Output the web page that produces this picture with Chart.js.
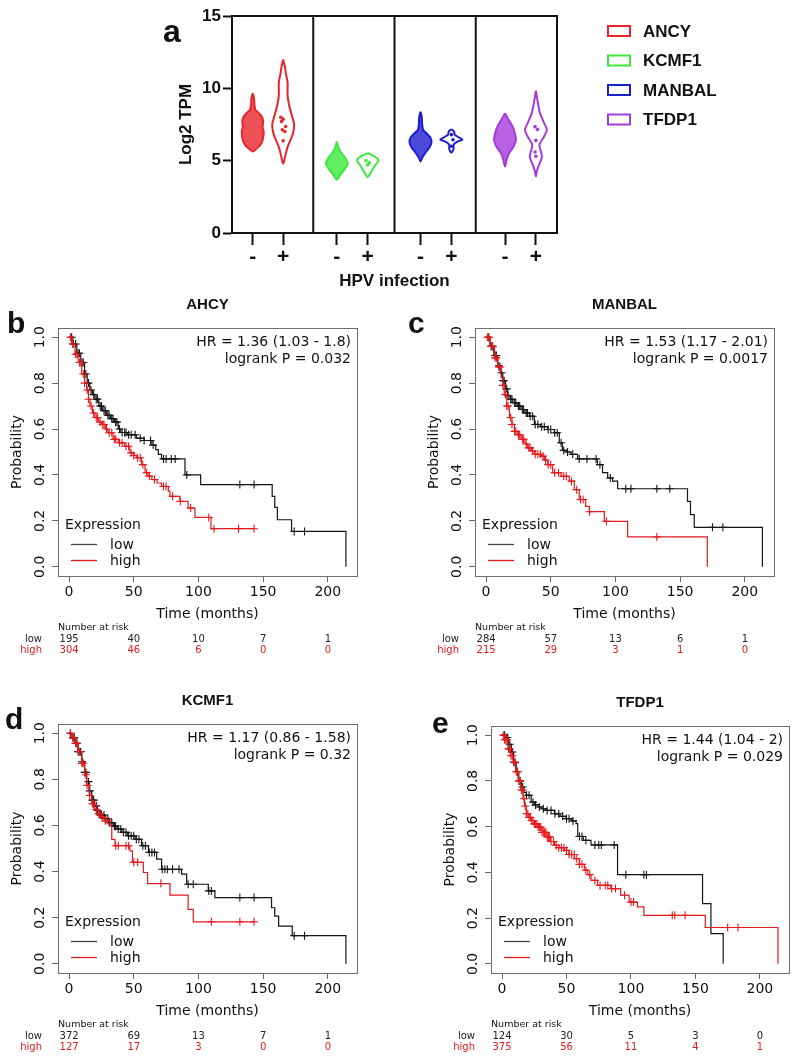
<!DOCTYPE html>
<html>
<head>
<meta charset="utf-8">
<script src="https://cdn.jsdelivr.net/npm/chart.js@4.4.1/dist/chart.umd.min.js"></script>
<style>
html,body{margin:0;padding:0;background:#fff;}
#page{position:relative;width:800px;height:1058px;overflow:hidden;}
canvas{position:absolute;}
</style>
</head>
<body>
<div id="page">
  <canvas id="cA" width="800" height="290" style="left:0;top:0"></canvas>
  <canvas id="cB" width="400" height="400" style="left:0;top:290px"></canvas>
  <canvas id="cC" width="400" height="400" style="left:400px;top:290px"></canvas>
  <canvas id="cD" width="400" height="368" style="left:0;top:690px"></canvas>
  <canvas id="cE" width="400" height="368" style="left:400px;top:690px"></canvas>
</div>
<script>
Chart.defaults.font.family='"DejaVu Sans", sans-serif';
Chart.defaults.color='#111';
Chart.defaults.animation=false;

// ---------- panel a : violin plots ----------
const genes=['ANCY','KCMF1','MANBAL','TFDP1'];
const geneColors=['#e8252b','#3ce83c','#1d1dd2','#a63bdc'];
const hpvLabels=['-','+','-','+','-','+','-','+'];
const violinX=[0.255,0.63,1.29,1.67,2.32,2.70,3.36,3.74];
const log2Ticks=[0,5,10,15];

// [log2 TPM, relative density width]
const ancyNeg=[[9.66,0],[9.3,0.12],[8.9,0.15],[8.5,0.25],[8.3,0.55],[8.0,0.85],[7.7,0.95],[7.3,0.9],[7.0,1.0],[6.6,0.95],[6.3,0.85],[6.0,0.6],[5.8,0.3],[5.63,0]];
const ancyPos=[[12.0,0],[11.5,0.15],[11.0,0.25],[10.4,0.4],[9.5,0.4],[8.8,0.55],[8.1,0.8],[7.5,1.0],[6.9,0.9],[6.4,0.65],[5.9,0.38],[5.3,0.18],[4.78,0]];
const kcmfNeg=[[6.32,0],[5.9,0.15],[5.5,0.45],[5.1,0.85],[4.8,1.0],[4.4,0.7],[4.0,0.3],[3.68,0]];
const kcmfPos=[[5.52,0],[5.35,0.5],[5.1,0.95],[4.9,0.9],[4.6,0.6],[4.2,0.3],[3.86,0]];
const manbalNeg=[[8.39,0],[8.0,0.12],[7.5,0.15],[7.1,0.25],[6.9,0.55],[6.6,0.9],[6.25,1.0],[5.9,0.8],[5.55,0.45],[5.2,0.15],[4.94,0]];
const manbalPos=[[7.18,0],[7.0,0.25],[6.8,0.3],[6.6,0.7],[6.45,1.0],[6.3,0.5],[6.1,0.2],[5.8,0.2],[5.56,0]];
const tfdpNeg=[[8.28,0],[7.8,0.35],[7.35,0.7],[6.9,0.9],[6.45,1.0],[6.0,0.8],[5.5,0.35],[5.05,0.15],[4.6,0]];
const tfdpPos=[[9.84,0],[9.0,0.18],[8.3,0.37],[7.6,0.75],[7.13,1.0],[6.67,0.75],[6.1,0.32],[5.63,0.46],[5.24,0.55],[4.7,0.28],[4.3,0.1],[3.9,0]];
const violins=[ancyNeg,ancyPos,kcmfNeg,kcmfPos,manbalNeg,manbalPos,tfdpNeg,tfdpPos];

// individual samples in the HPV+ groups: [log2 TPM, jitter]
const ancyPosDots=[[8.0,-0.03],[7.87,0.0],[7.7,-0.02],[7.36,0.03],[7.13,-0.01],[7.01,0.02],[6.37,0.0]];
const kcmfPosDots=[[5.0,-0.02],[4.85,0.02],[4.7,0.0]];
const manbalPosDots=[[6.8,0.0],[6.45,0.02],[6.0,0.0]];
const tfdpPosDots=[[7.35,-0.01],[7.15,0.02],[6.4,0.0],[5.6,-0.01],[5.3,0.0]];
const posDots=[ancyPosDots,kcmfPosDots,manbalPosDots,tfdpPosDots];

const VW=0.135;
function hexA(h,a){const n=parseInt(h.slice(1),16);return `rgba(${n>>16},${(n>>8)&255},${n&255},${a})`;}

const violinSets=[];
violins.forEach((prof,i)=>{
  const c=violinX[i], col=geneColors[Math.floor(i/2)];
  const right=prof.map(([y,w])=>({x:c+w*VW,y}));
  const left=prof.slice().reverse().map(([y,w])=>({x:c-w*VW,y}));
  const pts=right.concat(left.slice(1));
  const neg=i%2===0;
  violinSets.push({data:pts,showLine:true,tension:0.25,borderColor:col,borderWidth:2,
    pointRadius:0,fill:neg?'shape':false,backgroundColor:neg?hexA(col,0.8):'rgba(0,0,0,0)'});
});
posDots.forEach((dots,g)=>{
  const c=violinX[2*g+1];
  violinSets.unshift({data:dots.map(([y,dx])=>({x:c+dx,y})),showLine:false,pointRadius:1.8,
    pointBackgroundColor:geneColors[g],pointBorderWidth:0});
});

const panelADeco={
  id:'panelADeco',
  afterDraw(chart){
    const {ctx,chartArea:a,scales:{x}}=chart;
    ctx.save();
    ctx.strokeStyle='#111';ctx.lineWidth=2;
    ctx.beginPath();
    ctx.moveTo(a.left-1,a.top);ctx.lineTo(a.right,a.top);ctx.lineTo(a.right,a.bottom);
    [1,2,3].forEach(v=>{const px=x.getPixelForValue(v);ctx.moveTo(px,a.top);ctx.lineTo(px,a.bottom);});
    ctx.stroke();
    ctx.fillStyle='#111';
    ctx.font='bold 32px "Liberation Sans"';ctx.textAlign='left';ctx.textBaseline='alphabetic';
    ctx.fillText('a',163,42);
    ctx.font='bold 17px "Liberation Sans"';ctx.textAlign='center';ctx.textBaseline='middle';
    ctx.fillText('HPV infection',(a.left+a.right)/2,281);
    ctx.save();ctx.translate(186,(a.top+a.bottom)/2);ctx.rotate(-Math.PI/2);
    ctx.fillText('Log2 TPM',0,0);ctx.restore();
    // legend
    genes.forEach((g,i)=>{
      const y=31+i*29.5;
      ctx.strokeStyle=geneColors[i];ctx.lineWidth=2;
      ctx.strokeRect(608,y-5,22,10);
      ctx.fillStyle='#111';ctx.textAlign='left';
      ctx.fillText(g,643,y+1);
    });
    ctx.restore();
  }
};

new Chart(document.getElementById('cA'),{
  type:'scatter',
  data:{datasets:violinSets},
  options:{
    responsive:false,events:[],
    layout:{padding:{left:0,top:16,right:243,bottom:0}},
    plugins:{legend:{display:false},tooltip:{enabled:false}},
    scales:{
      x:{type:'linear',min:0,max:4,
        afterBuildTicks:s=>{s.ticks=violinX.map(v=>({value:v}));},
        afterFit:s=>{s.height=57;},
        border:{display:true,width:2,color:'#111'},
        grid:{drawOnChartArea:false,tickLength:12,tickWidth:2,tickColor:'#111'},
        ticks:{autoSkip:false,maxRotation:0,padding:0,font:{family:'"Liberation Sans"',size:21,weight:'bold'},color:'#111',
          callback:(v,i)=>hpvLabels[i]}},
      y:{min:0,max:15,
        afterBuildTicks:s=>{s.ticks=log2Ticks.map(v=>({value:v}));},
        afterFit:s=>{s.width=232;},
        border:{display:true,width:2,color:'#111'},
        grid:{drawOnChartArea:false,tickLength:9,tickWidth:2,tickColor:'#111'},
        ticks:{padding:2,font:{family:'"Liberation Sans"',size:17,weight:'bold'},color:'#111'}}
    }
  },
  plugins:[panelADeco]
});

// ---------- panels b-e : Kaplan-Meier ----------
const timeTicks=[0,50,100,150,200];
const probTicks=[0,0.2,0.4,0.6,0.8,1.0];
const RED='#e3191c', BLACK='#151515';

// AHCY
const ahcyLowT=[0,3,6,9,12,14,16,18,20,23,26,29,32,35,38,40,45,52,58,64,67,69,71.5,89.6,101.7,157,159,161,172,214];
const ahcyLowS=[1,0.97,0.93,0.89,0.84,0.80,0.77,0.75,0.73,0.70,0.68,0.66,0.645,0.63,0.60,0.585,0.575,0.56,0.55,0.53,0.51,0.49,0.47,0.40,0.358,0.307,0.259,0.205,0.154,0];
const ahcyLowC=[2,3,5,7,8,10,11,13,15,17,19,21,22,24,25,27,28,30,31,33,34,36,37,39,41,43,44,46,48,51,55,58,63,65,73,75,79,82,91,132,143,174,182];
const ahcyHighT=[0,2,4.6,7,9.8,12,13.6,15,16.2,18,20,23,25,28,30,34,38,43,47,50,52,56,58.7,61,64,68,71.5,76.7,78,85.7,92,97.3,109.7,143];
const ahcyHighS=[1,0.97,0.926,0.89,0.84,0.80,0.77,0.73,0.70,0.67,0.65,0.63,0.62,0.60,0.584,0.555,0.54,0.525,0.496,0.485,0.475,0.445,0.41,0.395,0.38,0.365,0.35,0.33,0.307,0.285,0.256,0.215,0.166,0.166];
const ahcyHighC=[1,3,5,6,8,9,11,12,14,15,17,19,21,22,24,26,27,29,31,33,35,36,39,41,44,46,48,50,53,55,57,60,62,66,73,75,80,86,94,108,112,131,143];
const ahcyRiskLow=[195,40,10,7,1], ahcyRiskHigh=[304,46,6,0,0];

// MANBAL
const manbalLowT=[0,3,6,9,11,12.9,15,16.7,18.5,20.6,24,27,30,33.5,37.3,42,47.6,52.8,56.6,59,62,65.6,70.8,86,90,94,97.8,101.7,155.7,158,160.9,213.6];
const manbalLowS=[1,0.96,0.92,0.875,0.845,0.81,0.775,0.745,0.73,0.715,0.70,0.685,0.67,0.656,0.62,0.61,0.598,0.584,0.54,0.507,0.50,0.49,0.47,0.445,0.41,0.387,0.373,0.34,0.285,0.227,0.172,0];
const manbalLowC=[2,4,5,7,8,10,12,13,14,16,17,19,20,22,23,25,26,28,29,31,32,34,36,38,40,43,45,48,50,53,55,58,60,63,67,72,78,85,88,96,108,112,132,142,175,183];
const manbalHighT=[0,3,6.6,9,11.6,13,14,16,18,20,21.9,24,27,30,32,35,37.3,42.5,45,47.6,51.5,58,64.3,68.2,72,77,79.8,91.4,109.4,171];
const manbalHighS=[1,0.96,0.91,0.87,0.824,0.79,0.75,0.70,0.65,0.62,0.59,0.575,0.555,0.535,0.518,0.505,0.49,0.482,0.465,0.445,0.41,0.394,0.373,0.336,0.293,0.263,0.24,0.198,0.13,0];
const manbalHighC=[1,2,4,5,7,8,10,11,13,15,16,17,19,20,22,23,25,26,28,29,31,33,34,36,38,40,42,44,46,48,50,53,56,60,62,66,70,73,75,80,93,132];
const manbalRiskLow=[284,57,13,6,1], manbalRiskHigh=[215,29,3,1,0];

// KCMF1
const kcmfLowT=[0,2,4.6,7,9.8,12,13.6,15.5,17.5,19.5,21.4,24,27.8,31,34.2,37,40.7,45,51,56,61.3,67.7,71.5,87,90.9,107.6,112.7,156.5,159,162,172.5,214];
const kcmfLowS=[1,0.98,0.956,0.92,0.876,0.83,0.79,0.75,0.71,0.685,0.665,0.645,0.629,0.612,0.597,0.585,0.57,0.555,0.54,0.512,0.483,0.454,0.41,0.389,0.345,0.316,0.287,0.243,0.207,0.163,0.122,0];
const kcmfLowC=[1,3,4,6,7,9,10,12,13,15,16,18,19,21,22,24,25,27,28,30,31,33,35,36,38,40,42,44,46,48,50,52,54,57,59,62,64,66,72,74,76,80,85,92,96,108,110,132,143,174,182];
const kcmfHighT=[0,2,4.6,7,9.8,12,13.6,15.5,17.5,19.5,21.4,25,28,31.7,33,35.5,47,49,57.4,60.7,78,92,96,143];
const kcmfHighS=[1,0.98,0.956,0.92,0.87,0.82,0.774,0.73,0.694,0.67,0.65,0.635,0.62,0.60,0.54,0.512,0.49,0.44,0.396,0.348,0.298,0.236,0.182,0.182];
const kcmfHighC=[1,3,5,6,8,10,11,13,14,16,18,19,21,23,24,26,28,30,36,38,44,46,50,53,71,110,132,143];
const kcmfRiskLow=[372,69,13,7,1], kcmfRiskHigh=[127,17,3,0,0];

// TFDP1
const tfdpLowT=[0,3.3,5,7.2,9,11,13,15,17,18.8,22.6,25,27.8,31,34.2,40.7,45,49.7,54,57.4,58.7,63,69,89.6,155.5,162,171.5];
const tfdpLowS=[1,0.99,0.96,0.926,0.88,0.84,0.80,0.773,0.75,0.737,0.707,0.695,0.686,0.678,0.671,0.656,0.645,0.635,0.625,0.613,0.557,0.54,0.52,0.39,0.263,0.132,0];
const tfdpLowC=[2,4,6,8,10,12,14,16,19,21,24,26,29,32,35,38,41,44,47,50,52,55,60,62,65,72,75,77,87,96,110,112];
const tfdpHighT=[0,2,4.6,6.5,8.5,10.5,12.4,14.5,16.2,17.5,18.8,20.5,22.6,25,27.8,31,34.2,37.5,40.7,44,48.4,52,56.1,60,63.8,66.5,69,74.1,84.4,92,98.6,105,110,157.6,214];
const tfdpHighS=[1,0.98,0.94,0.91,0.882,0.84,0.80,0.76,0.722,0.69,0.656,0.64,0.627,0.612,0.598,0.575,0.555,0.535,0.518,0.508,0.496,0.478,0.46,0.435,0.41,0.39,0.365,0.343,0.329,0.30,0.27,0.249,0.212,0.159,0];
const tfdpHighC=[1,2,3,4,5,6,7,8,9,10,11,12,13,14,15,16,17,18,19,20,21,22,23,24,25,26,27,28,29,30,31,32,33,34,35,36,37,38,40,42,44,46,48,50,52,54,56,58,60,62,65,68,72,76,80,82,85,88,95,100,102,132,134,142,175,183];
const tfdpRiskLow=[124,30,5,3,0], tfdpRiskHigh=[375,56,11,4,1];

function survAt(T,S,t){let s=S[0];for(let i=0;i<T.length;i++){if(T[i]<=t)s=S[i];}return s;}

function kmDeco(d){
  return {
    id:'kmDeco',
    afterDraw(chart){
      const {ctx,chartArea:a,scales:{x}}=chart;
      const cx=(a.left+a.right)/2, cy=(a.top+a.bottom)/2;
      ctx.save();
      ctx.strokeStyle='#6e6e6e';ctx.lineWidth=1;
      ctx.strokeRect(Math.round(a.left)+0.5,Math.round(a.top)+0.5,Math.round(a.width),Math.round(a.height));
      ctx.fillStyle='#111';
      ctx.font='bold 15px "Liberation Sans"';ctx.textAlign='center';ctx.textBaseline='middle';
      ctx.fillText(d.title,cx,a.top-23);
      ctx.font='bold 30px "Liberation Sans"';ctx.textAlign='left';ctx.textBaseline='alphabetic';
      ctx.fillText(d.letter,a.left+d.lx,a.top+d.ly);
      ctx.font='14px "DejaVu Sans"';ctx.textAlign='right';ctx.textBaseline='middle';
      ctx.fillText(d.hr,a.right-6,a.top+14);
      ctx.fillText(d.p,a.right-6,a.top+31);
      ctx.textAlign='left';
      ctx.fillText('Expression',a.left+7,a.bottom-51);
      ctx.fillText('low',a.left+52,a.bottom-31);
      ctx.fillText('high',a.left+52,a.bottom-15);
      ctx.lineWidth=1.3;
      ctx.strokeStyle='#444';ctx.beginPath();ctx.moveTo(a.left+13,a.bottom-31.5);ctx.lineTo(a.left+39,a.bottom-31.5);ctx.stroke();
      ctx.strokeStyle=RED;ctx.beginPath();ctx.moveTo(a.left+13,a.bottom-15.5);ctx.lineTo(a.left+39,a.bottom-15.5);ctx.stroke();
      ctx.fillStyle='#111';ctx.textAlign='center';
      ctx.fillText('Time (months)',cx,a.bottom+38);
      ctx.save();ctx.translate(a.left-41,cy);ctx.rotate(-Math.PI/2);ctx.fillText('Probability',0,0);ctx.restore();
      ctx.font='9.5px "DejaVu Sans"';ctx.textAlign='left';
      ctx.fillText('Number at risk',a.left,a.bottom+52);
      ctx.font='10px "DejaVu Sans"';ctx.textAlign='right';
      ctx.fillStyle='#222';ctx.fillText('low',a.left-16,a.bottom+63);
      ctx.fillStyle=RED;ctx.fillText('high',a.left-16,a.bottom+74);
      ctx.textAlign='center';
      timeTicks.forEach((t,i)=>{
        const px=x.getPixelForValue(t);
        ctx.fillStyle='#222';ctx.fillText(String(d.riskLow[i]),px,a.bottom+63);
        ctx.fillStyle=RED;ctx.fillText(String(d.riskHigh[i]),px,a.bottom+74);
      });
      ctx.restore();
    }
  };
}

function km(id,p,d){
  const pts=(T,S)=>T.map((t,i)=>({x:t,y:S[i]}));
  const cens=(C,T,S)=>C.map(t=>({x:t,y:survAt(T,S,t)}));
  const mark=(col)=>({showLine:false,pointStyle:'cross',pointRadius:4,borderColor:col,pointBorderWidth:1.1,pointBackgroundColor:col});
  const line=(col)=>({showLine:true,stepped:true,borderColor:col,borderWidth:1.2,pointRadius:0,fill:false});
  new Chart(document.getElementById(id),{
    type:'scatter',
    data:{datasets:[
      Object.assign({data:cens(p.highC,p.highT,p.highS)},mark(RED)),
      Object.assign({data:pts(p.highT,p.highS)},line(RED)),
      Object.assign({data:cens(p.lowC,p.lowT,p.lowS)},mark(BLACK)),
      Object.assign({data:pts(p.lowT,p.lowS)},line(BLACK))
    ]},
    options:{
      responsive:false,events:[],
      layout:{padding:{left:0,top:p.top,right:p.right,bottom:0}},
      plugins:{legend:{display:false},tooltip:{enabled:false}},
      scales:{
        x:{type:'linear',min:-8.56,max:222.56,
          afterBuildTicks:s=>{s.ticks=timeTicks.map(v=>({value:v}));},
          afterFit:s=>{s.height=p.xh;},
          border:{display:false},
          grid:{drawOnChartArea:false,tickLength:6,tickColor:'#666'},
          ticks:{font:{size:14},color:'#111',padding:2,maxRotation:0,autoSkip:false}},
        y:{min:-0.04,max:1.04,
          afterBuildTicks:s=>{s.ticks=probTicks.map(v=>({value:v}));},
          afterFit:s=>{s.width=p.left;},
          border:{display:false},
          grid:{drawOnChartArea:false,tickLength:6,tickColor:'#666'},
          ticks:{font:{size:14},color:'#111',minRotation:90,maxRotation:90,crossAlign:'center',padding:1,
            callback:v=>Number(v).toFixed(1)}}
      }
    },
    plugins:[kmDeco(d)]
  });
}

km('cB',{lowT:ahcyLowT,lowS:ahcyLowS,lowC:ahcyLowC,highT:ahcyHighT,highS:ahcyHighS,highC:ahcyHighC,left:58,top:38,right:43,xh:114},
  {title:'AHCY',letter:'b',lx:-51,ly:5,hr:'HR = 1.36 (1.03 - 1.8)',p:'logrank P = 0.032',riskLow:ahcyRiskLow,riskHigh:ahcyRiskHigh});
km('cC',{lowT:manbalLowT,lowS:manbalLowS,lowC:manbalLowC,highT:manbalHighT,highS:manbalHighS,highC:manbalHighC,left:75,top:38,right:26,xh:114},
  {title:'MANBAL',letter:'c',lx:-67,ly:5,hr:'HR = 1.53 (1.17 - 2.01)',p:'logrank P = 0.0017',riskLow:manbalRiskLow,riskHigh:manbalRiskHigh});
km('cD',{lowT:kcmfLowT,lowS:kcmfLowS,lowC:kcmfLowC,highT:kcmfHighT,highS:kcmfHighS,highC:kcmfHighC,left:58,top:34,right:43,xh:85},
  {title:'KCMF1',letter:'d',lx:-53,ly:5,hr:'HR = 1.17 (0.86 - 1.58)',p:'logrank P = 0.32',riskLow:kcmfRiskLow,riskHigh:kcmfRiskHigh});
km('cE',{lowT:tfdpLowT,lowS:tfdpLowS,lowC:tfdpLowC,highT:tfdpHighT,highS:tfdpHighS,highC:tfdpHighC,left:91,top:36,right:11,xh:85},
  {title:'TFDP1',letter:'e',lx:-59,ly:7,hr:'HR = 1.44 (1.04 - 2)',p:'logrank P = 0.029',riskLow:tfdpRiskLow,riskHigh:tfdpRiskHigh});
</script>
</body>
</html>
